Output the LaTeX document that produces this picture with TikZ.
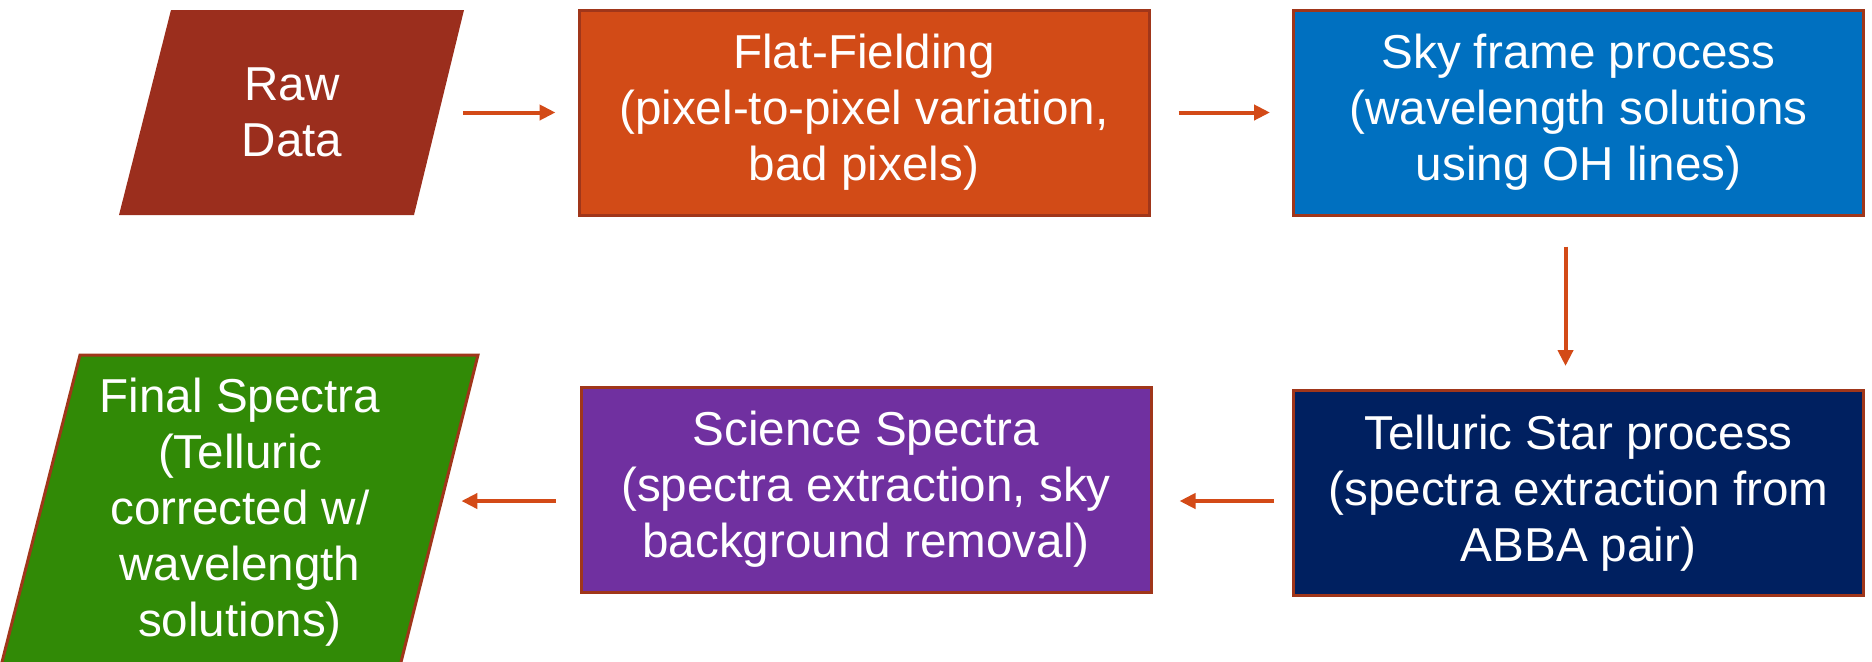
\documentclass[tikz,border=0pt]{standalone}
\usepackage{fontspec}
\setmainfont{Liberation Sans}
\usetikzlibrary{arrows.meta}
\definecolor{rawc}{RGB}{155,46,29}
\definecolor{flatc}{RGB}{210,75,23}
\definecolor{skyc}{RGB}{0,112,192}
\definecolor{tellc}{RGB}{0,32,96}
\definecolor{scic}{RGB}{112,48,160}
\definecolor{finc}{RGB}{49,138,6}
\definecolor{edgec}{RGB}{160,54,26}
\definecolor{arrc}{RGB}{211,74,23}
\tikzset{
  boxtext/.style={text=white, align=center, inner sep=0pt, font=\fontsize{23.8pt}{28pt}\selectfont},
  procbox/.style={boxtext, draw=edgec, line width=1.5pt, minimum width=285pt, minimum height=102.5pt},
  arr/.style={draw=arrc, line width=2pt, -{Triangle[length=8pt,width=7.5pt]}}
}
\begin{document}
\begin{tikzpicture}[x=0.5pt,y=-0.5pt]
\useasboundingbox (0,0) rectangle (1872,661);
% parallelogram shapes
\fill[rawc] (171,10) -- (464,10) -- (414,215) -- (119,215) -- cycle;
\begin{scope}
\clip (0,0) rectangle (1872,661);
\filldraw[fill=finc, draw=edgec, line width=1.5pt] (80,355) -- (478,355) -- (399,670) -- (0,670) -- cycle;
\end{scope}
% nodes
\node[boxtext, minimum width=147.5pt, minimum height=102.5pt] (raw) at (292,112.5) {Raw\\Data};
\node[procbox, fill=flatc] (flat) at (864,112.5) {Flat-Fielding\\(pixel-to-pixel variation,\\bad pixels)};
\node[procbox, fill=skyc] (sky) at (1578.5,112.5) {Sky frame process\\(wavelength solutions\\using OH lines)};
\node[procbox, fill=tellc] (tell) at (1578.5,493) {Telluric Star process\\(spectra extraction from\\ABBA pair)};
\node[procbox, fill=scic] (sci) at (866,489.5) {Science Spectra\\(spectra extraction, sky\\background removal)};
\node[boxtext, minimum width=199pt, minimum height=140pt] (fin) at (240,512) {Final Spectra\\(Telluric\\corrected w/\\wavelength\\solutions)};
% connectors
\draw[arr, shorten <=11.75pt, shorten >=11pt] (raw.east) -- (flat.west);
\draw[arr, shorten <=14pt, shorten >=11pt] (flat.east) -- (sky.west);
\draw[arr, shorten <=15pt, shorten >=11.5pt] ([xshift=-6.5pt]sky.south) -- ([xshift=-6.5pt]tell.north);
\draw[arr, shorten <=9pt, shorten >=13.5pt] ([yshift=-4pt]tell.west) -- ([yshift=-4pt]tell.west -| sci.east);
\draw[arr, shorten <=12pt, shorten >=11pt] ([yshift=-5.75pt]sci.west) -- ([yshift=-5.75pt]sci.west -| fin.east);
\end{tikzpicture}
\end{document}
